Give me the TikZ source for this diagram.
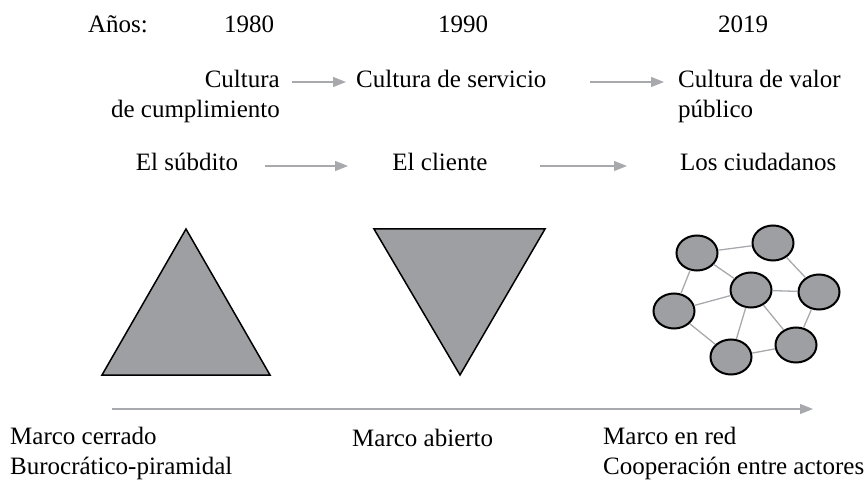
\documentclass[tikz,border=0pt]{standalone}
\usepackage{fontspec}
\setmainfont{Liberation Serif}
\usetikzlibrary{arrows.meta,shapes.geometric}
\definecolor{shade}{HTML}{9D9FA2}
\definecolor{linegray}{HTML}{A7A9AC}
\tikzset{
  label/.style={inner sep=0pt,font=\fontsize{25}{29}\selectfont},
  flow/.style={-{Triangle[length=13pt,width=10pt]},linegray,line width=1.3pt},
  actor/.style={ellipse,draw=black,fill=shade,line width=2pt,minimum width=41pt,minimum height=35pt,inner sep=0pt},
  tie/.style={linegray,line width=1.3pt}
}
\begin{document}
\begin{tikzpicture}[x=1pt,y=-1pt]
  \useasboundingbox (0,0) rectangle (868,481);
  % years
  \node[label,anchor=base] (anos) at (118,33) {Años:};
  \node[label,anchor=base] (y80) at (249,33) {1980};
  \node[label,anchor=base] (y90) at (463,33) {1990};
  \node[label,anchor=base] (y19) at (743,33) {2019};
  % cultures
  \node[label,anchor=base east] (cumpA) at (280,88) {Cultura};
  \node[label,anchor=base east] (cumpB) at (280,118) {de cumplimiento};
  \node[label,anchor=base west] (serv) at (356,88) {Cultura de servicio};
  \node[label,anchor=base west] (valA) at (678,88) {Cultura de valor};
  \node[label,anchor=base west] (valB) at (678,118) {público};
  \coordinate (a1s) at (292,82);
  \coordinate (a1e) at (346,82);
  \coordinate (a2s) at (590,82);
  \coordinate (a2e) at (664,82);
  \draw[flow] (a1s) -- (a1e);
  \draw[flow] (a2s) -- (a2e);
  % subjects
  \node[label,anchor=base] (subd) at (187,171) {El súbdito};
  \node[label,anchor=base] (clie) at (440,171) {El cliente};
  \node[label,anchor=base west] (ciud) at (680,171) {Los ciudadanos};
  \coordinate (b1s) at (265,166);
  \coordinate (b1e) at (348,166);
  \coordinate (b2s) at (540,166);
  \coordinate (b2e) at (627,166);
  \draw[flow] (b1s) -- (b1e);
  \draw[flow] (b2s) -- (b2e);
  % pyramid and inverted pyramid
  \draw[fill=shade,line width=1.5pt,line join=miter] (186,229) -- (270,375) -- (102,375) -- cycle;
  \draw[fill=shade,line width=1.5pt,line join=miter] (374,229) -- (545,229) -- (460,375) -- cycle;
  % network
  \node[actor] (nA) at (697,253) {};
  \node[actor] (nB) at (773,243) {};
  \node[actor] (nC) at (751,290) {};
  \node[actor] (nD) at (819,292) {};
  \node[actor] (nE) at (674,311) {};
  \node[actor] (nF) at (796,345) {};
  \node[actor] (nG) at (731,357) {};
  \foreach \p/\q in {nA/nB,nA/nC,nA/nE,nB/nD,nC/nE,nC/nD,nC/nF,nC/nG,nD/nF,nE/nG,nG/nF}
    \draw[tie] (\p) -- (\q);
  % frames
  \coordinate (ts) at (112,409);
  \coordinate (te) at (813,409);
  \draw[flow] (ts) -- (te);
  \node[label,anchor=base west] (cerrA) at (10,444) {Marco cerrado};
  \node[label,anchor=base west] (cerrB) at (10,474) {Burocrático-piramidal};
  \node[label,anchor=base west] (abie) at (352,446) {Marco abierto};
  \node[label,anchor=base west] (redA) at (603,444) {Marco en red};
  \node[label,anchor=base west] (redB) at (603,474) {Cooperación entre actores};
\end{tikzpicture}
\end{document}
